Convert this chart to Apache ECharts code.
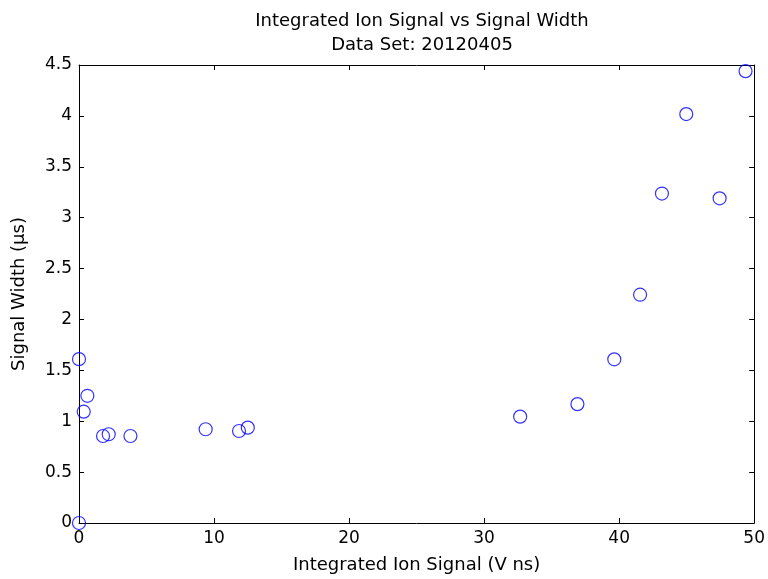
<!DOCTYPE html>
<html>
<head>
<meta charset="utf-8">
<script src="https://cdn.jsdelivr.net/npm/echarts@6/dist/echarts.min.js"></script>
<style>
  html, body { margin: 0; padding: 0; background: #fff; }
  #chart { width: 768px; height: 579px; }
</style>
</head>
<body>
<div id="chart"></div>
<script>
// Integrated ion signal (V ns) against signal width (µs), data set 20120405
const ionSignal = [0, 0, 0.35, 0.62, 1.78, 2.2, 3.81, 9.38, 11.85, 12.5,
                   32.67, 36.91, 39.64, 41.55, 43.17, 44.97, 47.44, 49.36];
const signalWidth = [0, 1.61, 1.094, 1.25, 0.855, 0.872, 0.855, 0.921, 0.904, 0.937,
                     1.045, 1.168, 1.608, 2.243, 3.237, 4.018, 3.19, 4.44];
const xTicks = [0, 10, 20, 30, 40, 50];
const yTicks = [0, 0.5, 1, 1.5, 2, 2.5, 3, 3.5, 4, 4.5];

const points = ionSignal.map((x, i) => [x, signalWidth[i]]);
const FONT = 'DejaVu Sans';
const tickLabel = { color: '#000', fontFamily: FONT, fontSize: 17 };
const axisLine = { show: true, onZero: false, lineStyle: { color: '#000', width: 1 } };
const axisTick = { show: true, inside: true, length: 5, lineStyle: { color: '#000' } };

const chart = echarts.init(document.getElementById('chart'));
chart.setOption({
  animation: false,
  backgroundColor: '#fff',
  title: {
    text: 'Integrated Ion Signal vs Signal Width\nData Set: 20120405',
    left: 417, top: 4, textAlign: 'center',
    textStyle: { color: '#000', fontFamily: FONT, fontSize: 18, fontWeight: 'normal', lineHeight: 24 }
  },
  grid: { left: 79, right: 13, top: 65, bottom: 54 },
  xAxis: [
    {
      type: 'value', min: xTicks[0], max: xTicks[xTicks.length - 1], interval: 10, position: 'bottom',
      name: 'Integrated Ion Signal (V ns)', nameLocation: 'middle', nameGap: 33,
      nameTextStyle: { color: '#000', fontFamily: FONT, fontSize: 18 },
      axisLine, axisTick, splitLine: { show: false },
      axisLabel: Object.assign({ margin: 7 }, tickLabel)
    },
    {
      type: 'value', min: xTicks[0], max: xTicks[xTicks.length - 1], interval: 10, position: 'top',
      axisLine, axisTick, splitLine: { show: false }, axisLabel: { show: false }
    }
  ],
  yAxis: [
    {
      type: 'value', min: yTicks[0], max: yTicks[yTicks.length - 1], interval: 0.5, position: 'left',
      name: 'Signal Width (\u03bcs)', nameLocation: 'middle', nameGap: 51,
      nameTextStyle: { color: '#000', fontFamily: FONT, fontSize: 18 },
      axisLine, axisTick, splitLine: { show: false },
      axisLabel: Object.assign({ margin: 7, formatter: v => String(v) }, tickLabel)
    },
    {
      type: 'value', min: yTicks[0], max: yTicks[yTicks.length - 1], interval: 0.5, position: 'right',
      axisLine, axisTick, splitLine: { show: false }, axisLabel: { show: false }
    }
  ],
  series: [{
    type: 'scatter',
    data: points,
    symbol: 'circle',
    symbolSize: 13,
    itemStyle: { color: 'rgba(0,0,0,0)', borderColor: '#0000ff', borderWidth: 1.2 },
    clip: false
  }]
});
</script>
</body>
</html>
